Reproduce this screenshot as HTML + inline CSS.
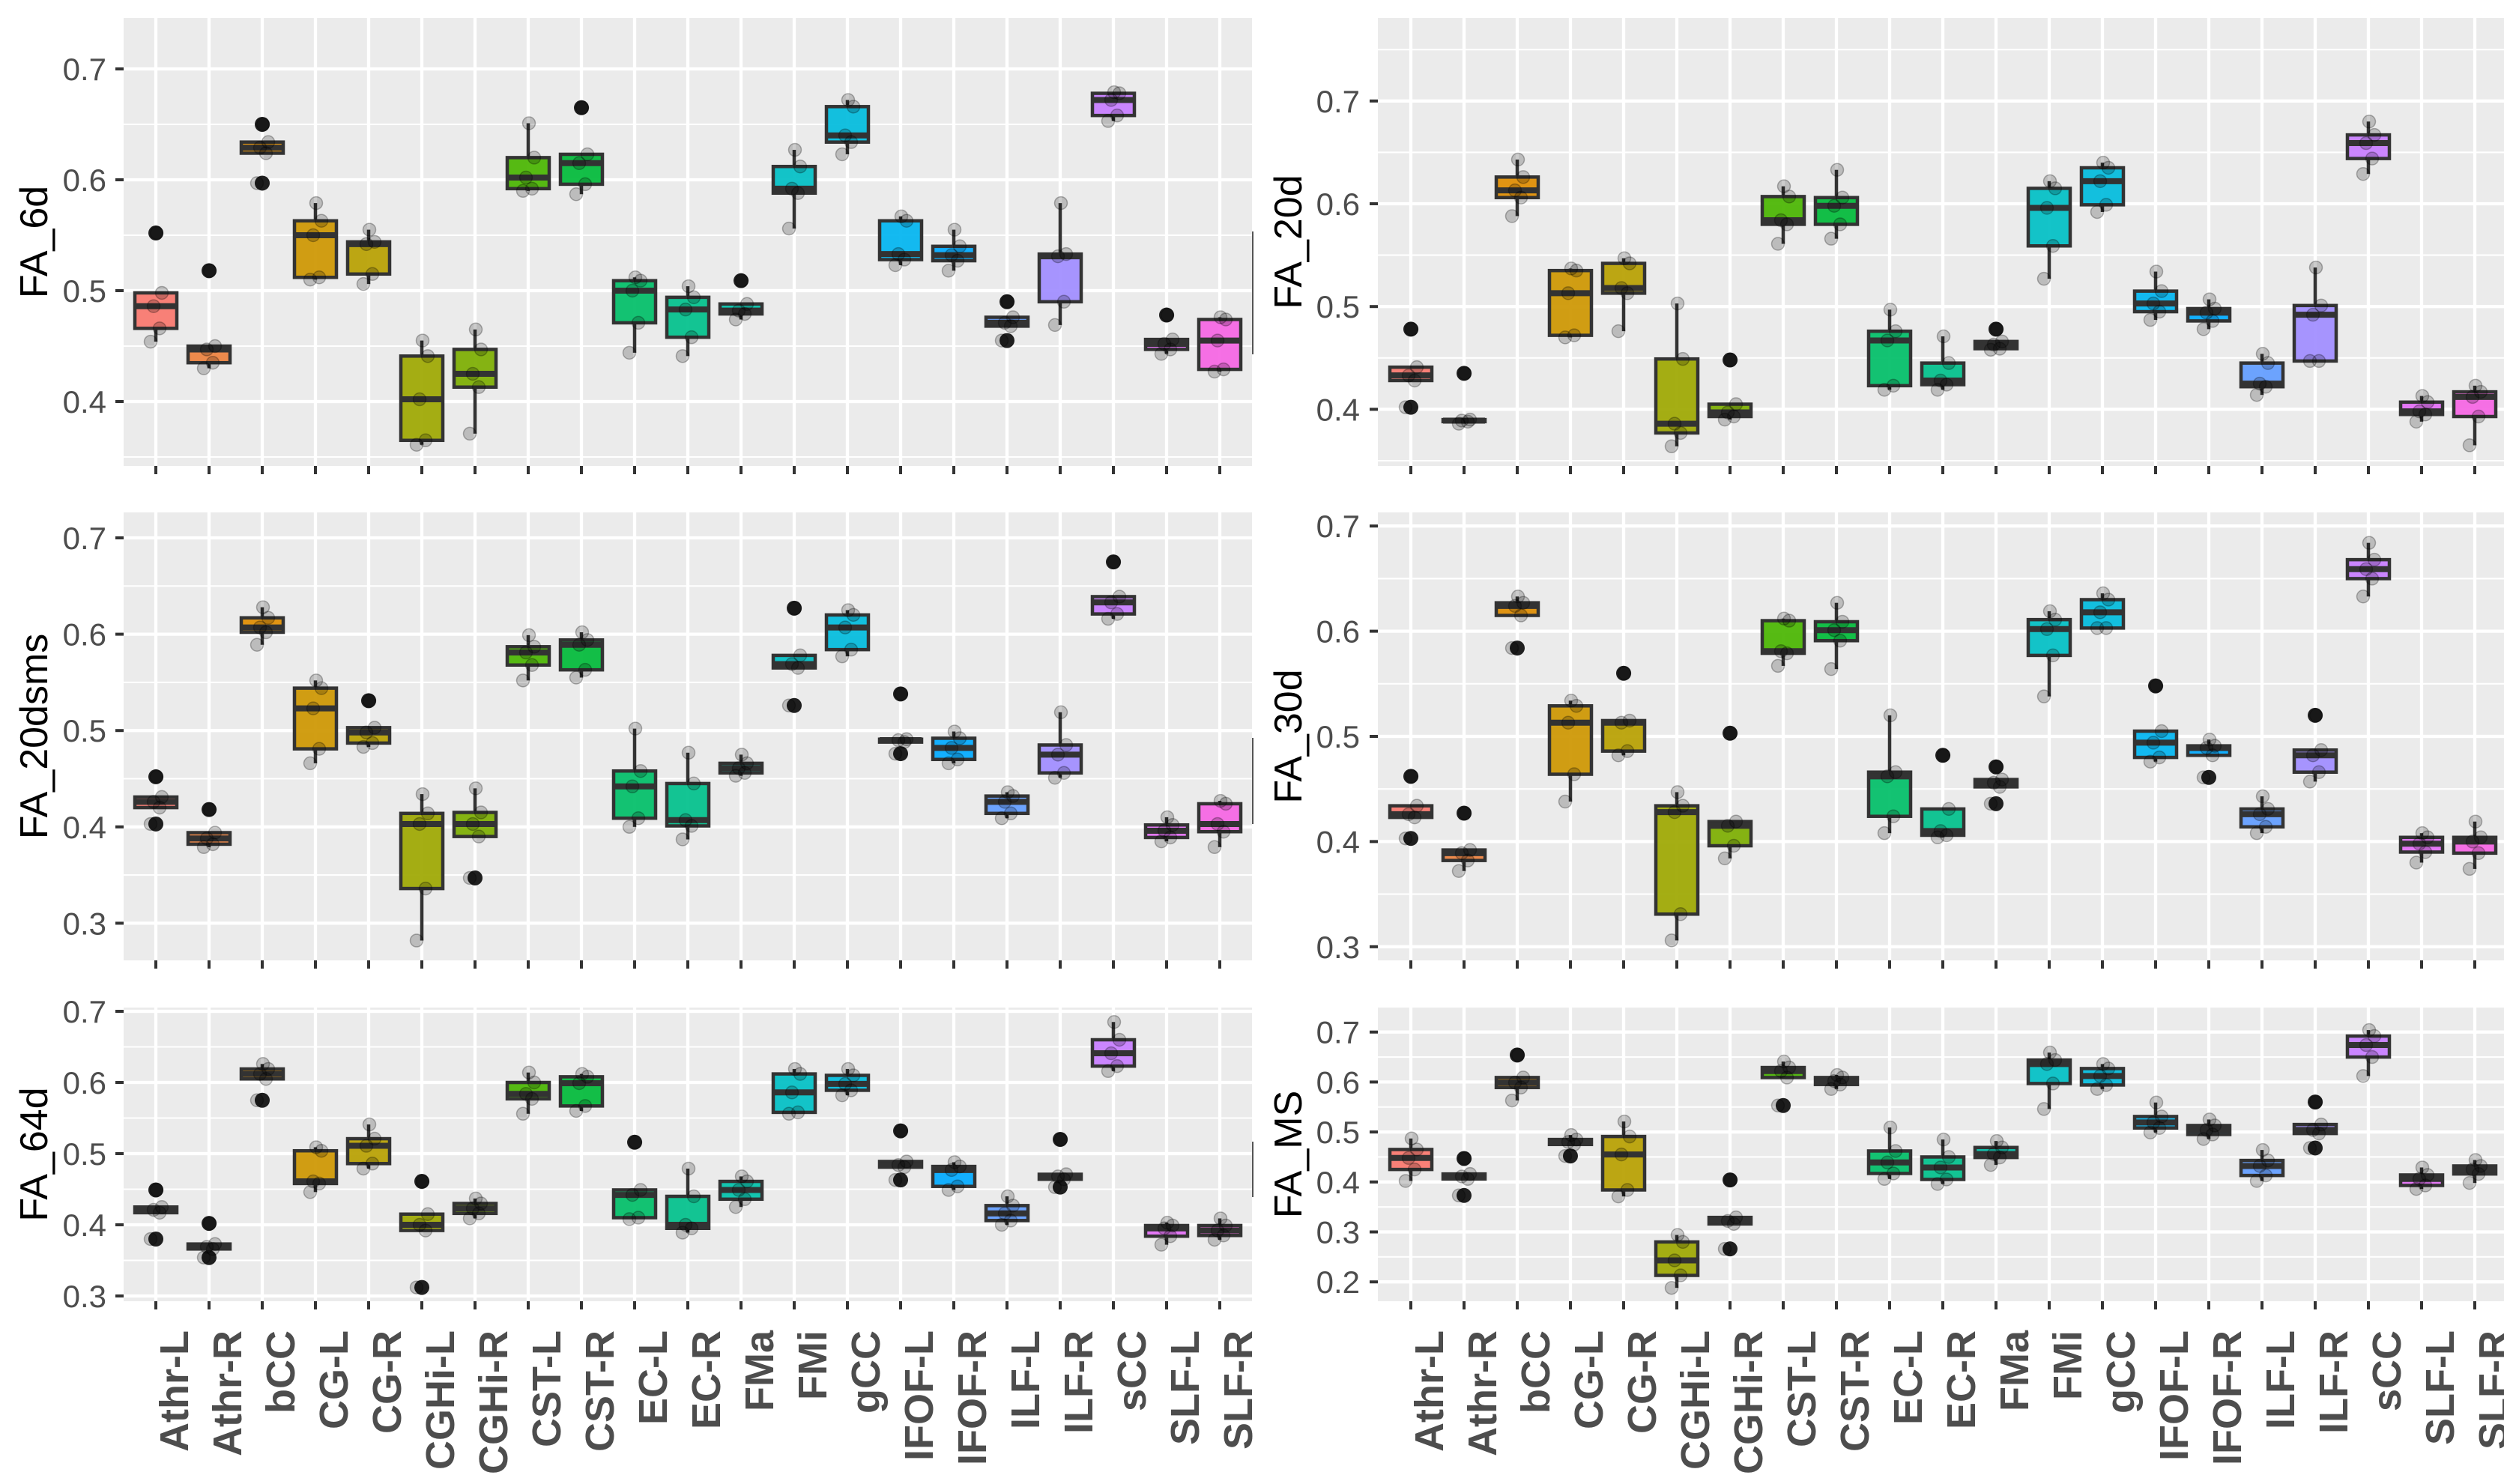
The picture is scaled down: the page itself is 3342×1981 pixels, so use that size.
<!DOCTYPE html>
<html><head><meta charset="utf-8"><title>FA boxplots</title>
<style>html,body{margin:0;padding:0;background:#fff}svg{display:block}</style></head>
<body>
<svg id="chart" xmlns="http://www.w3.org/2000/svg" width="3342" height="1981" viewBox="0 0 3342 1981"></svg>
<script>
const categories = ["Athr-L","Athr-R","bCC","CG-L","CG-R","CGHi-L","CGHi-R","CST-L","CST-R","EC-L","EC-R","FMa","FMi","gCC","IFOF-L","IFOF-R","ILF-L","ILF-R","sCC","SLF-L","SLF-R"];

const fa6d = [[0.454,0.466,0.486,0.498,0.552],[0.430,0.435,0.447,0.450,0.518],[0.597,0.624,0.629,0.634,0.650],[0.510,0.512,0.550,0.563,0.579],[0.506,0.515,0.542,0.544,0.555],[0.361,0.365,0.402,0.441,0.455],[0.371,0.413,0.425,0.447,0.465],[0.590,0.592,0.602,0.620,0.651],[0.587,0.596,0.615,0.623,0.665],[0.444,0.471,0.500,0.509,0.512],[0.441,0.458,0.483,0.494,0.504],[0.474,0.479,0.482,0.488,0.509],[0.556,0.588,0.592,0.612,0.627],[0.623,0.634,0.640,0.666,0.672],[0.523,0.528,0.533,0.563,0.567],[0.518,0.527,0.532,0.540,0.555],[0.455,0.468,0.471,0.476,0.490],[0.469,0.490,0.531,0.533,0.579],[0.653,0.658,0.672,0.678,0.679],[0.443,0.447,0.452,0.456,0.478],[0.427,0.429,0.455,0.474,0.476]];

const fa20d = [[0.402,0.428,0.433,0.441,0.478],[0.386,0.388,0.389,0.390,0.435],[0.588,0.606,0.613,0.626,0.643],[0.470,0.472,0.513,0.535,0.537],[0.476,0.513,0.518,0.542,0.547],[0.364,0.377,0.386,0.449,0.503],[0.390,0.393,0.397,0.405,0.448],[0.561,0.580,0.584,0.607,0.617],[0.566,0.580,0.598,0.606,0.633],[0.419,0.423,0.467,0.476,0.497],[0.419,0.424,0.428,0.445,0.471],[0.458,0.459,0.463,0.466,0.478],[0.527,0.559,0.596,0.615,0.622],[0.592,0.599,0.622,0.635,0.640],[0.487,0.495,0.503,0.515,0.534],[0.478,0.486,0.494,0.498,0.507],[0.414,0.422,0.425,0.445,0.454],[0.447,0.447,0.492,0.501,0.538],[0.629,0.644,0.659,0.667,0.680],[0.388,0.395,0.398,0.407,0.413],[0.365,0.393,0.412,0.417,0.423]];

const fa20dsms = [[0.403,0.420,0.426,0.431,0.452],[0.379,0.382,0.388,0.394,0.418],[0.589,0.602,0.607,0.617,0.628],[0.466,0.481,0.523,0.544,0.552],[0.483,0.487,0.498,0.503,0.531],[0.282,0.336,0.403,0.414,0.434],[0.347,0.390,0.403,0.415,0.440],[0.552,0.568,0.581,0.587,0.599],[0.555,0.563,0.589,0.594,0.602],[0.400,0.409,0.442,0.458,0.502],[0.387,0.401,0.407,0.445,0.477],[0.453,0.456,0.461,0.466,0.475],[0.526,0.565,0.569,0.578,0.627],[0.577,0.584,0.607,0.620,0.625],[0.476,0.488,0.490,0.491,0.538],[0.466,0.470,0.482,0.492,0.499],[0.409,0.414,0.426,0.432,0.436],[0.451,0.456,0.475,0.485,0.519],[0.616,0.621,0.633,0.639,0.675],[0.385,0.389,0.396,0.402,0.410],[0.379,0.395,0.403,0.424,0.427]];

const fa30d = [[0.403,0.423,0.426,0.434,0.462],[0.372,0.382,0.389,0.392,0.427],[0.584,0.615,0.624,0.627,0.633],[0.438,0.464,0.513,0.529,0.534],[0.482,0.486,0.513,0.515,0.560],[0.306,0.331,0.428,0.434,0.447],[0.384,0.396,0.415,0.419,0.503],[0.567,0.579,0.581,0.610,0.612],[0.564,0.591,0.601,0.609,0.627],[0.408,0.424,0.462,0.466,0.520],[0.404,0.406,0.410,0.431,0.482],[0.436,0.452,0.456,0.459,0.471],[0.538,0.577,0.602,0.611,0.619],[0.603,0.603,0.618,0.630,0.636],[0.476,0.480,0.494,0.505,0.548],[0.461,0.482,0.489,0.491,0.497],[0.408,0.414,0.426,0.431,0.443],[0.457,0.466,0.482,0.487,0.520],[0.633,0.650,0.659,0.668,0.684],[0.380,0.390,0.398,0.404,0.408],[0.374,0.389,0.400,0.404,0.419]];

const fa64d = [[0.380,0.417,0.421,0.425,0.449],[0.354,0.366,0.369,0.373,0.402],[0.575,0.605,0.612,0.619,0.626],[0.446,0.458,0.461,0.504,0.509],[0.479,0.486,0.511,0.521,0.541],[0.312,0.392,0.400,0.415,0.461],[0.409,0.416,0.423,0.430,0.437],[0.556,0.577,0.584,0.600,0.614],[0.560,0.567,0.599,0.608,0.612],[0.408,0.410,0.442,0.449,0.516],[0.389,0.395,0.400,0.440,0.479],[0.425,0.436,0.449,0.461,0.468],[0.556,0.558,0.586,0.612,0.619],[0.582,0.589,0.598,0.610,0.619],[0.463,0.481,0.484,0.489,0.532],[0.449,0.454,0.477,0.482,0.488],[0.400,0.406,0.416,0.427,0.440],[0.453,0.464,0.468,0.471,0.520],[0.616,0.623,0.641,0.660,0.685],[0.372,0.384,0.395,0.399,0.403],[0.379,0.385,0.392,0.399,0.409]];

const faMS = [[0.402,0.425,0.448,0.465,0.487],[0.373,0.406,0.411,0.416,0.447],[0.563,0.589,0.599,0.609,0.654],[0.452,0.475,0.480,0.485,0.494],[0.371,0.384,0.455,0.491,0.521],[0.188,0.213,0.243,0.280,0.294],[0.266,0.316,0.322,0.329,0.404],[0.553,0.609,0.622,0.629,0.641],[0.586,0.595,0.602,0.609,0.614],[0.406,0.417,0.439,0.462,0.509],[0.396,0.405,0.429,0.450,0.485],[0.434,0.449,0.456,0.469,0.482],[0.546,0.597,0.636,0.644,0.659],[0.586,0.594,0.612,0.627,0.636],[0.499,0.508,0.519,0.531,0.559],[0.486,0.495,0.504,0.513,0.525],[0.402,0.413,0.432,0.443,0.464],[0.468,0.497,0.504,0.515,0.560],[0.612,0.650,0.674,0.692,0.704],[0.386,0.393,0.406,0.414,0.429],[0.398,0.416,0.425,0.432,0.444]];

const ticksRow1 = ["0.4","0.5","0.6","0.7"];
const ticksRow2 = ["0.3","0.4","0.5","0.6","0.7"];
const ticksBL = ["0.3","0.4","0.5","0.6","0.7"];
const ticksBR = ["0.2","0.3","0.4","0.5","0.6","0.7"];

const NS = "http://www.w3.org/2000/svg";
const svg = document.getElementById("chart");
function mk(tag, attrs, parent) {
  const e = document.createElementNS(NS, tag);
  for (const k in attrs) e.setAttribute(k, attrs[k]);
  (parent || svg).appendChild(e);
  return e;
}

function hcl(h, c, l) {
  const hr = h * Math.PI / 180;
  const U = c * Math.cos(hr), V = c * Math.sin(hr);
  const Xn = 95.047, Yn = 100, Zn = 108.883;
  const Y = Yn * Math.pow((l + 16) / 116, 3);
  const d = Xn + 15 * Yn + 3 * Zn;
  const un = 4 * Xn / d, vn = 9 * Yn / d;
  const up = U / (13 * l) + un, vp = V / (13 * l) + vn;
  const X = Y * 9 * up / (4 * vp);
  const Z = Y * (12 - 3 * up - 20 * vp) / (4 * vp);
  const x = X / 100, y = Y / 100, z = Z / 100;
  let r = 3.2404542 * x - 1.5371385 * y - 0.4985314 * z;
  let g = -0.9692660 * x + 1.8760108 * y + 0.0415560 * z;
  let b = 0.0556434 * x - 0.2040259 * y + 1.0572252 * z;
  const gam = t => { t = t <= 0.0031308 ? 12.92 * t : 1.055 * Math.pow(t, 1 / 2.4) - 0.055; return Math.round(Math.max(0, Math.min(1, t)) * 255); };
  return "rgb(" + gam(r) + "," + gam(g) + "," + gam(b) + ")";
}
const nLevels = 24;
const colors = categories.map((c, i) => hcl(15 + 360 / nLevels * i, 100, 65));

function stats(vals) {
  const s = vals.slice().sort((a, b) => a - b);
  const q = p => { const h = (s.length - 1) * p, lo = Math.floor(h), hi = Math.ceil(h); return s[lo] + (s[hi] - s[lo]) * (h - lo); };
  const q1 = q(0.25), med = q(0.5), q3 = q(0.75), iqr = q3 - q1;
  const inside = s.filter(v => v >= q1 - 1.5 * iqr - 1e-9 && v <= q3 + 1.5 * iqr + 1e-9);
  const out = s.filter(v => inside.indexOf(v) < 0);
  return { q1, med, q3, lo: Math.min(...inside), hi: Math.max(...inside), out };
}

const jitter = [-7, 5, -3, 8, 1];

const panels = [
  { name: "fa-6d", title: "FA_6d", data: fa6d, ticks: ticksRow1, x0: 165, x1: 1671, top: 24, bottom: 622, y07: 92, per: 1480, catX0: 208, tickLabX: 142, titleX: 63, showX: false },
  { name: "fa-20d", title: "FA_20d", data: fa20d, ticks: ticksRow1, x0: 1839, x1: 3350, top: 24, bottom: 622, y07: 134.8, per: 1372, catX0: 1883, tickLabX: 1815, titleX: 1737, showX: false },
  { name: "fa-20dsms", title: "FA_20dsms", data: fa20dsms, ticks: ticksRow2, x0: 165, x1: 1671, top: 684, bottom: 1282, y07: 718, per: 1286, catX0: 208, tickLabX: 142, titleX: 63, showX: false },
  { name: "fa-30d", title: "FA_30d", data: fa30d, ticks: ticksRow2, x0: 1839, x1: 3350, top: 684, bottom: 1282, y07: 702.2, per: 1404, catX0: 1883, tickLabX: 1815, titleX: 1737, showX: false },
  { name: "fa-64d", title: "FA_64d", data: fa64d, ticks: ticksBL, x0: 165, x1: 1671, top: 1345, bottom: 1737, y07: 1350, per: 950, catX0: 208, tickLabX: 142, titleX: 63, showX: true },
  { name: "fa-ms", title: "FA_MS", data: faMS, ticks: ticksBR, x0: 1839, x1: 3350, top: 1345, bottom: 1737, y07: 1377.7, per: 667, catX0: 1883, tickLabX: 1815, titleX: 1737, showX: true }
];
const step = 71.0;

panels.forEach(p => {
  const g = mk("g", {});
  
  
  const yS = v => p.y07 + (0.7 - v) * p.per;
  const xS = i => p.catX0 + i * step;
  const bg = mk("rect", { x: p.x0, y: p.top, width: p.x1 - p.x0, height: p.bottom - p.top, fill: "#ebebeb" }, g);
  
  
  const majors = p.ticks.map(Number);
  const minors = [];
  for (let v = majors[0] - 0.05; v <= majors[majors.length - 1] + 0.051; v += 0.1) minors.push(v);
  minors.forEach(v => {
    const y = yS(v);
    if (y > p.top && y < p.bottom) {
      const l = mk("line", { x1: p.x0, x2: p.x1, y1: y, y2: y, stroke: "#fff", "stroke-width": 2.1 }, g);
      
      
    }
  });
  majors.forEach(v => {
    const y = yS(v);
    const l = mk("line", { x1: p.x0, x2: p.x1, y1: y, y2: y, stroke: "#fff", "stroke-width": 4.3 }, g);
    
    
  });
  categories.forEach((c, i) => {
    const l = mk("line", { x1: xS(i), x2: xS(i), y1: p.top, y2: p.bottom, stroke: "#fff", "stroke-width": 4.3 }, g);
    
    
  });
  p.ticks.forEach(t => {
    const y = yS(Number(t));
    const tk = mk("line", { x1: p.x0 - 11, x2: p.x0, y1: y, y2: y, stroke: "#333", "stroke-width": 4 }, g);
    
    
    const tx = mk("text", { x: p.tickLabX, y: y + 15, "text-anchor": "end", "font-family": "Liberation Sans, Arial, sans-serif", "font-size": 42, fill: "#4d4d4d" }, g);
    tx.textContent = t;
    
    
  });
  const cy = (p.top + p.bottom) / 2;
  const tt = mk("text", { x: p.titleX, y: cy, transform: "rotate(-90 " + p.titleX + " " + cy + ")", "text-anchor": "middle", "font-family": "Liberation Sans, Arial, sans-serif", "font-size": 52, fill: "#000" }, g);
  tt.textContent = p.title;
  
  
  categories.forEach((c, i) => {
    const x = xS(i);
    const tk = mk("line", { x1: x, x2: x, y1: p.bottom, y2: p.bottom + 11, stroke: "#333", "stroke-width": 4 }, g);
    
    
    if (p.showX) {
      const bx = x + 43, by = 1776;
      const tx = mk("text", { x: bx, y: by, transform: "rotate(-90 " + bx + " " + by + ")", "text-anchor": "end", "font-family": "Liberation Sans, Arial, sans-serif", "font-size": 54, "font-weight": "bold", fill: "#4d4d4d" }, g);
      tx.textContent = c;
      
      
    }
  });
  const bw = 56;
  p.data.forEach((vals, i) => {
    const s = stats(vals);
    const x = xS(i);
    const bg2 = mk("g", {}, g);
    
    
    mk("line", { x1: x, x2: x, y1: yS(s.hi), y2: yS(s.q3), stroke: "#333", "stroke-width": 4.5 }, bg2);
    mk("line", { x1: x, x2: x, y1: yS(s.q1), y2: yS(s.lo), stroke: "#333", "stroke-width": 4.5 }, bg2);
    mk("rect", { x: x - bw / 2, y: yS(s.q3), width: bw, height: Math.max(0.5, yS(s.q1) - yS(s.q3)), fill: colors[i], "fill-opacity": 0.92, stroke: "#333", "stroke-width": 4.5 }, bg2);
    mk("line", { x1: x - bw / 2, x2: x + bw / 2, y1: yS(s.med), y2: yS(s.med), stroke: "#333", "stroke-width": 8 }, bg2);
    s.out.forEach(v => {
      const o = mk("circle", { cx: x, cy: yS(v), r: 10, fill: "#1f1f1f" }, bg2);
      
      
    });
    vals.forEach((v, k) => {
      const pt = mk("circle", { cx: x + jitter[k], cy: yS(v), r: 8.5, fill: "rgba(0,0,0,0.2)", stroke: "rgba(0,0,0,0.28)", "stroke-width": 1.5 }, bg2);
      
      
    });
  });
});

[[309, 473], [985, 1100], [1524, 1598]].forEach(r => {
  const l = mk("line", { x1: 1672, x2: 1672, y1: r[0], y2: r[1], stroke: "#555", "stroke-width": 2 });
  
  
});
</script>
</body></html>
